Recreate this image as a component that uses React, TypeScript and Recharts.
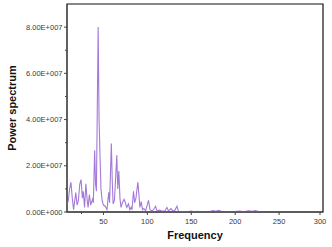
import React from "react"
import {
  LineChart,
  Line,
  XAxis,
  YAxis,
  Label,
  ReferenceArea,
} from "recharts"

// frequency samples and power spectrum values
const frequency = [
  8.5, 10, 11.5, 13, 14.5, 16, 18.5, 20, 21.5, 23, 24.5, 26, 27, 28.5, 30, 31.5,
  32.5, 34, 35.5, 37.5, 38.5, 40, 41, 42, 43, 44, 45, 46.3, 47.2, 48.5, 50, 52,
  54, 56, 57, 59, 60, 61, 62.5, 63.5, 65.2, 66.3, 67.5, 68.8, 70, 71.5, 73.5,
  75, 76.5, 78.5, 80, 81.5, 82.5, 84.2, 85.5, 87, 89.2, 90.5, 91.5, 93, 94.5,
  96, 98, 101.3, 103, 105, 107, 109.3, 111, 114, 117, 120, 122.3, 124, 126.9,
  129, 131, 133.7, 135.5, 140, 145, 150, 153, 157, 162, 170, 175, 178, 181,
  185, 190, 200, 205, 210, 215, 220, 223, 227, 235,
]
const power = [
  0.3e7, 0.5e7, 1.0e7, 1.29e7, 0.6e7, 0.1e7, 0.84e7, 0.3e7, 0.5e7, 1.2e7,
  1.4e7, 0.6e7, 0.9e7, 0.2e7, 1.22e7, 0.5e7, 0.2e7, 0.75e7, 0.3e7, 0.55e7,
  0.4e7, 2.67e7, 1.2e7, 0.9e7, 4.5e7, 8.0e7, 4.0e7, 2.13e7, 1.0e7, 0.5e7,
  0.3e7, 0.25e7, 0.1e7, 0.85e7, 0.4e7, 2.96e7, 1.4e7, 0.35e7, 0.5e7, 1.2e7,
  2.46e7, 1.0e7, 1.77e7, 0.6e7, 0.2e7, 0.4e7, 0.55e7, 0.4e7, 0.2e7, 0.35e7,
  0.1e7, 0.2e7, 0.1e7, 0.9e7, 0.4e7, 0.6e7, 1.29e7, 0.7e7, 0.2e7, 0.45e7,
  0.1e7, 0.15e7, 0.05e7, 0.5e7, 0.1e7, 0.05e7, 0.1e7, 0.25e7, 0.05e7, 0.08e7,
  0.03e7, 0.05e7, 0.2e7, 0.05e7, 0.15e7, 0.05e7, 0.05e7, 0.25e7, 0.02e7,
  0.02e7, 0.01e7, 0.04e7, 0.01e7, 0.03e7, 0.01e7, 0.01e7, 0.06e7, 0.03e7,
  0.07e7, 0.02e7, 0.01e7, 0.02e7, 0.04e7, 0.01e7, 0.05e7, 0.03e7, 0.06e7,
  0.01e7, 0,
]

const xTicks = [25, 50, 75, 100, 125, 150, 175, 200, 225, 250, 275, 300]
const xLabels = [50, 100, 150, 200, 250, 300]
const yTicks = [0, 1e7, 2e7, 3e7, 4e7, 5e7, 6e7, 7e7, 8e7]
const yLabels = [0, 2e7, 4e7, 6e7, 8e7]

const data = frequency.map((f, i) => ({ f, p: power[i] }))

const sci = (v: number) => {
  if (v === 0) return "0.00E+000"
  const e = Math.floor(Math.log10(v))
  return `${(v / Math.pow(10, e)).toFixed(2)}E+${String(e).padStart(3, "0")}`
}

const font = "'Liberation Sans', Arial, sans-serif"

const XTick = ({ x, y, payload }: any) => {
  const major = xLabels.includes(payload.value)
  const top = y - 5
  return (
    <g>
      <line x1={x} x2={x} y1={top} y2={top + (major ? 3 : 2)} stroke="#444" />
      {major && (
        <text x={x} y={top + 12} textAnchor="middle" fontSize={7.5} fill="#3a3a3a" fontFamily={font}>
          {payload.value}
        </text>
      )}
    </g>
  )
}

const YTick = ({ x, y, payload }: any) => {
  const major = yLabels.includes(payload.value)
  const right = x + 6
  return (
    <g>
      <line x1={right} x2={right - (major ? 3 : 2)} y1={y} y2={y} stroke="#444" />
      {major && (
        <text x={right - 4.5} y={y + 2.6} textAnchor="end" fontSize={7.5} fill="#3a3a3a" fontFamily={font}>
          {sci(payload.value)}
        </text>
      )}
    </g>
  )
}

export default function App() {
  return (
    <div style={{ position: "absolute", left: 0, top: 0, background: "#fff" }}>
      <LineChart
        width={332}
        height={247}
        data={data}
        margin={{ top: 4, right: 9, left: 0, bottom: 0 }}
      >
        <XAxis
          dataKey="f"
          type="number"
          domain={[8.5, 300]}
          ticks={xTicks}
          allowDataOverflow
          height={35}
          tickSize={3}
          tickMargin={2}
          tickLine={false}
          tick={<XTick />}
          axisLine={{ stroke: "#333" }}
        >
          <Label
            value="Frequency"
            position="center"
            dy={6}
            style={{ fontFamily: font, fontSize: 11, fontWeight: "bold", fill: "#111" }}
          />
        </XAxis>
        <YAxis
          type="number"
          domain={[0, 9e7]}
          ticks={yTicks}
          width={67}
          tickSize={3}
          tickMargin={3}
          tickLine={false}
          tick={<YTick />}
          axisLine={{ stroke: "#555" }}
        >
          <Label
            value="Power spectrum"
            angle={-90}
            position="center"
            dx={-21.5}
            style={{ fontFamily: font, fontSize: 11, fontWeight: "bold", fill: "#111" }}
          />
        </YAxis>
        <Line
          type="linear"
          dataKey="p"
          stroke="#a47ad8"
          strokeWidth={1.1}
          dot={false}
          isAnimationActive={false}
        />
        <ReferenceArea
          x1={8.5}
          x2={300}
          y1={0}
          y2={9e7}
          fill="none"
          stroke="#111"
          strokeWidth={1.2}
        />
      </LineChart>
    </div>
  )
}
